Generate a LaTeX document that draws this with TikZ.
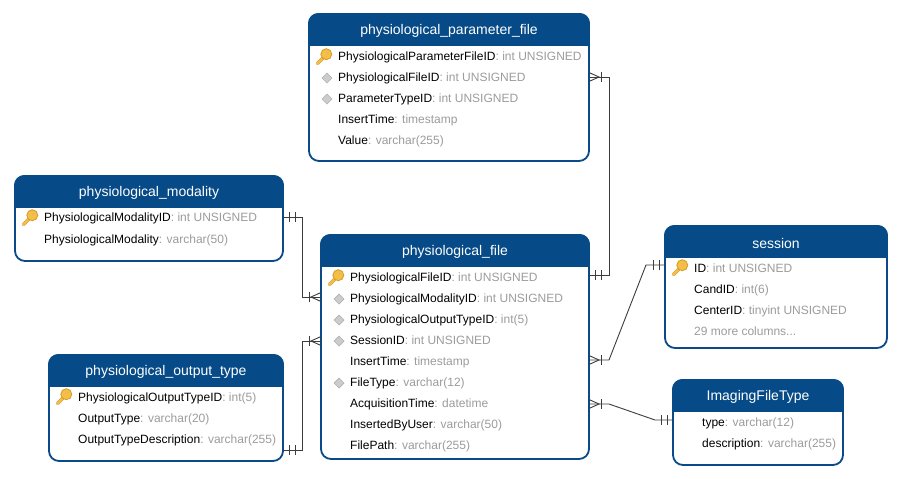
\documentclass[tikz,border=0pt]{standalone}
\usepackage{fontspec}
\setmainfont{Liberation Sans}
\usetikzlibrary{calc}
\definecolor{hdr}{HTML}{064A87}
\definecolor{bordc}{HTML}{0A4A88}
\definecolor{typec}{HTML}{9C9C9C}
\definecolor{linec}{HTML}{3C3C3C}
\definecolor{keyc}{HTML}{F5BE45}
\definecolor{keyd}{HTML}{D39A28}
\tikzset{
  x=1pt,y=-1pt,
  box/.style={draw=bordc,line width=1.8pt,fill=white,rounded corners=10pt,inner sep=0pt,outer sep=0pt,anchor=north west},
  title/.style={text=white,font=\fontsize{14}{16}\selectfont,inner sep=0pt,anchor=center},
  row/.style={font=\fontsize{12}{14}\selectfont,inner sep=0pt,anchor=base west,text=black},
  conn/.style={draw=linec,line width=0.9pt},
  pics/onemark/.style={code={\draw[conn] (0,-5) -- (0,5);}},
  pics/crowfoot/.style={code={\draw[conn] (-10,-4.5) -- (0,0) -- (-10,4.5);\draw[conn] (2,-5) -- (2,5);}},
}
\newcommand{\entity}[7]{% name,x0,y0,x1,y1,headerbottom,title
  \node[box,minimum width=#4pt-#2pt,minimum height=#5pt-#3pt] (#1) at (#2,#3) {};
  \begin{scope}
    \clip[rounded corners=10pt] (#2-0.9,#3-0.9) rectangle (#4+0.9,#5+0.9);
    \fill[hdr] (#2-0.9,#3-0.9) rectangle (#4+0.9,#6);
  \end{scope}
  \node[title] (#1-title) at ({(#2+#4)/2},{(#3+#6)/2+1}) {#7};
}
\newcommand{\rowtext}[5]{% id,x,y,name,type
  \node[row] (#1) at (#2,#3+4.2) {#4\textcolor{typec}{: #5}};
}
\newcommand{\keyicon}[2]{%
  \begin{scope}[shift={(#1,#2)}]
    \draw[keyd,line width=3.4pt,line cap=round] (-6,6.5) -- (1,-0.5);
    \draw[keyc,line width=2.2pt,line cap=round] (-6,6.5) -- (1,-0.5);
    \fill[keyc,draw=keyd,line width=0.8pt] (2.8,-2.8) circle (5.5);
    \fill[keyd!70!white] (4,-4) circle (1.1);
  \end{scope}
}
\newcommand{\fkicon}[2]{%
  \fill[black!20,draw=black!30,line width=0.7pt] (#1-5,#2) -- (#1,#2-5) -- (#1+5,#2) -- (#1,#2+5) -- cycle;
}
\begin{document}
\begin{tikzpicture}
\useasboundingbox (0,0) rectangle (900,479);
\fill[white] (0,0) rectangle (900,479);

\entity{pf}{309}{14}{589}{161}{46}{physiological\_parameter\_file}
\keyicon{323.5}{57}
\fkicon{327}{78}\fkicon{327}{99}
\rowtext{pf1}{338}{56}{PhysiologicalParameterFileID}{int UNSIGNED}
\rowtext{pf2}{338}{77}{PhysiologicalFileID}{int UNSIGNED}
\rowtext{pf3}{338}{98}{ParameterTypeID}{int UNSIGNED}
\rowtext{pf4}{338}{119}{InsertTime}{timestamp}
\rowtext{pf5}{338}{140}{Value}{varchar(255)}

\entity{pm}{15}{176}{283}{261}{208}{physiological\_modality}
\keyicon{29.5}{218}
\rowtext{pm1}{44}{217}{PhysiologicalModalityID}{int UNSIGNED}
\rowtext{pm2}{44}{239}{PhysiologicalModality}{varchar(50)}

\entity{ff}{321}{235}{589}{459}{267}{physiological\_file}
\keyicon{335.5}{278}
\fkicon{339}{299}\fkicon{339}{320}\fkicon{339}{341}\fkicon{339}{383}
\rowtext{ff1}{350}{277}{PhysiologicalFileID}{int UNSIGNED}
\rowtext{ff2}{350}{298}{PhysiologicalModalityID}{int UNSIGNED}
\rowtext{ff3}{350}{319}{PhysiologicalOutputTypeID}{int(5)}
\rowtext{ff4}{350}{340}{SessionID}{int UNSIGNED}
\rowtext{ff5}{350}{361}{InsertTime}{timestamp}
\rowtext{ff6}{350}{382}{FileType}{varchar(12)}
\rowtext{ff7}{350}{403}{AcquisitionTime}{datetime}
\rowtext{ff8}{350}{424}{InsertedByUser}{varchar(50)}
\rowtext{ff9}{350}{445}{FilePath}{varchar(255)}

\entity{ot}{49}{355}{283}{461}{387}{physiological\_output\_type}
\keyicon{63.5}{397}
\rowtext{ot1}{78}{397}{PhysiologicalOutputTypeID}{int(5)}
\rowtext{ot2}{78}{418}{OutputType}{varchar(20)}
\rowtext{ot3}{78}{439}{OutputTypeDescription}{varchar(255)}

\entity{se}{665}{226}{887}{348}{258}{session}
\keyicon{679.5}{268}
\rowtext{se1}{694}{268}{ID}{int UNSIGNED}
\rowtext{se2}{694}{289}{CandID}{int(6)}
\rowtext{se3}{694}{310}{CenterID}{tinyint UNSIGNED}
\node[row,text=typec] (se4) at (694,331+4.2) {29 more columns...};

\entity{ift}{673}{380}{843}{465}{412}{ImagingFileType}
\rowtext{if1}{702}{422}{type}{varchar(12)}
\rowtext{if2}{702}{443}{description}{varchar(255)}

% connector ends on the box borders
\coordinate (a1) at (pf.east |- 0,77);
\coordinate (a2) at (ff.east |- 0,275);
\coordinate (b1) at (pm.east |- 0,217);
\coordinate (b2) at (ff.west |- 0,297);
\coordinate (c1) at (ot.east |- 0,450);
\coordinate (c2) at (ff.west |- 0,341);
\coordinate (d1) at (ff.east |- 0,360);
\coordinate (d2) at (se.west |- 0,265);
\coordinate (e1) at (ff.east |- 0,404);
\coordinate (e2) at (ift.west |- 0,420);

\draw[conn] (a1) -- ++(20,0) |- (a2);
\draw[conn] (b1) -- ++(19,0) |- (b2);
\draw[conn] (c1) -- ++(19,0) |- (c2);
\draw[conn] (d1) -- ++(20,0) -- ++(37,-95) -- (d2);
\draw[conn] (e1) -- ++(20,0) -- ++(46,16) -- (e2);

% cardinality marks
\pic at ($(a1)+(10,0)$) {crowfoot};
\pic at ($(a2)+(6,0)$) {onemark};
\pic at ($(a2)+(12,0)$) {onemark};
\pic at ($(b1)+(6,0)$) {onemark};
\pic at ($(b1)+(12,0)$) {onemark};
\pic[xscale=-1] at ($(b2)+(-10,0)$) {crowfoot};
\pic at ($(c1)+(6,0)$) {onemark};
\pic at ($(c1)+(12,0)$) {onemark};
\pic[xscale=-1] at ($(c2)+(-10,0)$) {crowfoot};
\pic at ($(d1)+(10,0)$) {crowfoot};
\pic at ($(d2)+(-12,0)$) {onemark};
\pic at ($(d2)+(-6,0)$) {onemark};
\pic at ($(e1)+(10,0)$) {crowfoot};
\pic at ($(e2)+(-12,0)$) {onemark};
\pic at ($(e2)+(-6,0)$) {onemark};
\end{tikzpicture}
\end{document}
